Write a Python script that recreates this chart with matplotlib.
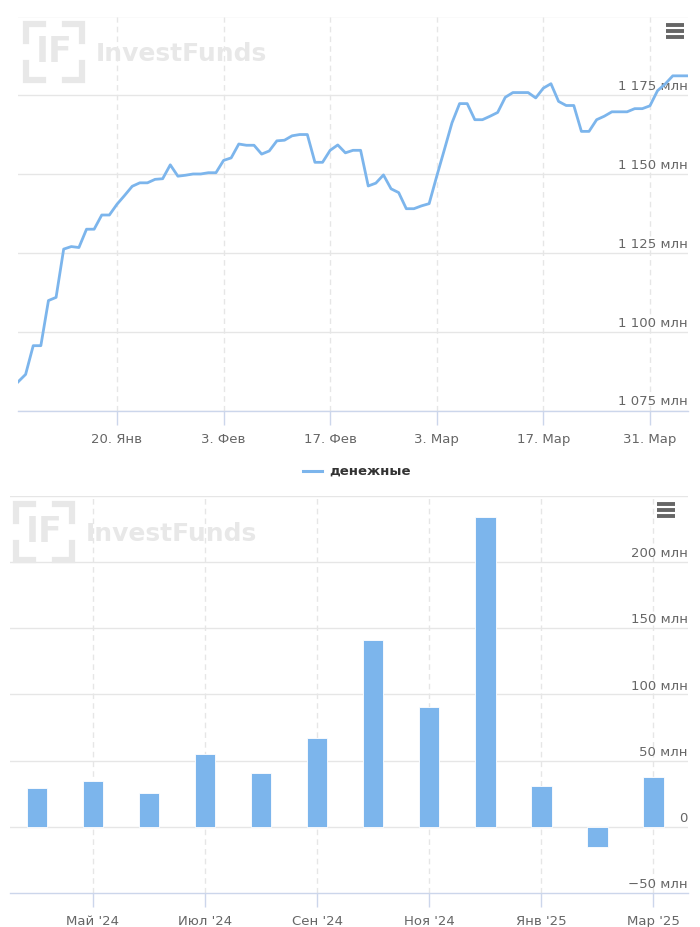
# -*- coding: utf-8 -*-
"""
Fund 'денежные': daily net assets (top) and monthly net flows (bottom)
"""

# Import Libraries -----------------------------------------------------------
import matplotlib
matplotlib.use('Agg')
import matplotlib.pyplot as plt
import matplotlib.transforms as mtransforms
import numpy as np
import pandas as pd

plt.rcParams['font.family'] = ['DejaVu Sans']

# Data ------------------------------------------------------------------------
start_date = '2025-01-07'
nav_values = [
    1084.2, 1086.6, 1095.7, 1095.7, 1110.0, 1111.0, 1126.3, 1127.1, 1126.8, 1132.6,
    1132.6, 1137.1, 1137.1, 1140.5, 1143.3, 1146.2, 1147.3, 1147.3, 1148.4, 1148.6,
    1153.0, 1149.4, 1149.7, 1150.1, 1150.1, 1150.5, 1150.5, 1154.4, 1155.2, 1159.6,
    1159.2, 1159.2, 1156.4, 1157.4, 1160.6, 1160.8, 1162.2, 1162.6, 1162.6, 1153.8,
    1153.8, 1157.6, 1159.3, 1156.8, 1157.6, 1157.6, 1146.3, 1147.2, 1149.8, 1145.4,
    1144.2, 1139.1, 1139.1, 1140.0, 1140.7, 1149.4, 1157.8, 1166.3, 1172.4, 1172.4,
    1167.3, 1167.3, 1168.4, 1169.6, 1174.4, 1175.9, 1175.9, 1175.9, 1174.2, 1177.3,
    1178.7, 1173.1, 1171.8, 1171.8, 1163.6, 1163.6, 1167.3, 1168.4, 1169.8, 1169.8,
    1169.8, 1170.8, 1170.8, 1171.7, 1176.5, 1178.6, 1181.2, 1181.2, 1181.2,
]
top_tick_dates = ['2025-01-20', '2025-02-03', '2025-02-17', '2025-03-03', '2025-03-17', '2025-03-31']
top_tick_labels = ['20. Янв', '3. Фев', '17. Фев', '3. Мар', '17. Мар', '31. Мар']
top_yticks = [1075, 1100, 1125, 1150, 1175]

months = ['Апр', 'Май', 'Июн', 'Июл', 'Авг', 'Сен', 'Окт', 'Ноя', 'Дек', 'Янв', 'Фев', 'Мар']
flows = [29.5, 35.0, 25.7, 55.4, 40.6, 66.8, 141.1, 90.7, 234.3, 31.2, -15.6, 37.8]
bottom_tick_idx = [1, 3, 5, 7, 9, 11]
bottom_tick_labels = ["Май '24", "Июл '24", "Сен '24", "Ноя '24", "Янв '25", "Мар '25"]
bottom_yticks = [-50, 0, 50, 100, 150, 200]

series_name = 'денежные'

# Styles ----------------------------------------------------------------------
BLUE = '#7cb5ec'
GRID = '#e6e6e6'
AXIS = '#ccd6eb'
LABEL = '#666666'
WM = '#e8e8e8'
W, H = 700, 927


def fmt_mln(v):
    if v == 0:
        return '0'
    s = f'{abs(v):,}'.replace(',', ' ')
    return ('\u2212' if v < 0 else '') + s + ' млн'


def fig_line(fig, xs, ys, **kw):
    """line in pixel coords (origin top-left)"""
    fig.add_artist(plt.Line2D([x / W for x in xs], [1 - y / H for y in ys],
                              transform=fig.transFigure, **kw))


def watermark(fig, x0, y0):
    """InvestFunds logo; x0, y0 = top-left in pixels"""
    size = 56
    arm = 17
    corners = [
        ([x0, x0, x0 + arm], [y0 + arm, y0, y0]),
        ([x0 + size - arm, x0 + size, x0 + size], [y0, y0, y0 + arm]),
        ([x0, x0, x0 + arm], [y0 + size - arm, y0 + size, y0 + size]),
        ([x0 + size - arm, x0 + size, x0 + size], [y0 + size, y0 + size, y0 + size - arm]),
    ]
    for xs, ys in corners:
        fig_line(fig, xs, ys, color=WM, lw=4.5, solid_joinstyle='miter', zorder=0.5)
    fig.text((x0 + size / 2) / W, 1 - (y0 + size / 2) / H, 'IF', color=WM,
             fontsize=25, fontweight='bold', ha='center', va='center', zorder=0.5)
    fig.text((x0 + 70) / W, 1 - (y0 + 30) / H, 'InvestFunds', color=WM,
             fontsize=18, fontweight='bold', ha='left', va='center', zorder=0.5)


def menu_icon(fig, xc, yc):
    for dy in (-6, 0, 6):
        fig_line(fig, [xc - 9, xc + 9], [yc + dy] * 2, color='#666666',
                 lw=2.8, solid_capstyle='butt')


def style_axes(ax):
    for side in ('top', 'left', 'right'):
        ax.spines[side].set_visible(False)
    ax.spines['bottom'].set_color(AXIS)
    ax.spines['bottom'].set_linewidth(1)
    ax.tick_params(axis='y', left=False, right=False, labelleft=False, labelright=False)
    ax.tick_params(axis='x', colors=AXIS, length=10, width=1, labelcolor=LABEL,
                   labelsize=9.5, pad=6)
    ax.set_facecolor('none')


# Build Plot ------------------------------------------------------------------
fig = plt.figure(figsize=(7, 9.27), dpi=100)

# Top: line chart
ax1 = fig.add_axes([18 / W, 1 - 411 / H, 670 / W, (411 - 16.5) / H])
dates = pd.date_range(start_date, periods=len(nav_values), freq='D')
ax1.set_xlim(dates[0], dates[-1])
ax1.set_ylim(1075, 1200)
for y in top_yticks + [1200]:
    ax1.axhline(y, color=GRID, lw=1, zorder=1)
tick_dates = pd.to_datetime(top_tick_dates)
for d in tick_dates:
    ax1.axvline(d, color=GRID, lw=1, ls=(0, (4, 3)), zorder=1)
ax1.plot(dates, nav_values, color=BLUE, lw=2, zorder=3)
ax1.set_xticks(tick_dates)
ax1.set_xticklabels(top_tick_labels)
style_axes(ax1)
trans1 = mtransforms.blended_transform_factory(ax1.transAxes, ax1.transData)
for y in top_yticks:
    ax1.text(1.0, y + 0.8, fmt_mln(y), transform=trans1, ha='right', va='bottom',
             color=LABEL, fontsize=9.5, zorder=2)

# Legend
fig_line(fig, [303, 322], [471, 471], color=BLUE, lw=2.2)
fig.text(329 / W, 1 - 471 / H, series_name, ha='left', va='center',
         fontsize=9.5, fontweight='bold', color='#333333')

# Bottom: bar chart
ax2 = fig.add_axes([10 / W, 1 - 893 / H, 678 / W, (893 - 496) / H])
x_pos = np.arange(len(months))
ax2.set_xlim(-0.48, 11.62)
ax2.set_ylim(-50, 250)
for y in bottom_yticks[1:] + [250]:
    ax2.axhline(y, color=GRID, lw=1, zorder=1)
for i in bottom_tick_idx:
    ax2.axvline(i, color=GRID, lw=1, ls=(0, (4, 3)), zorder=1)
ax2.bar(x_pos, flows, width=0.37, color=BLUE, edgecolor='white', linewidth=0.6, zorder=3)
ax2.set_xticks(bottom_tick_idx)
ax2.set_xticklabels(bottom_tick_labels)
style_axes(ax2)
trans2 = mtransforms.blended_transform_factory(ax2.transAxes, ax2.transData)
for y in bottom_yticks:
    ax2.text(1.0, y + 1.5, fmt_mln(y), transform=trans2, ha='right', va='bottom',
             color=LABEL, fontsize=9.5, zorder=2)

# Decorations
watermark(fig, 26, 24)
watermark(fig, 16, 504)
menu_icon(fig, 675, 31)
menu_icon(fig, 666, 510)

plt.savefig('out.png', dpi=100)
